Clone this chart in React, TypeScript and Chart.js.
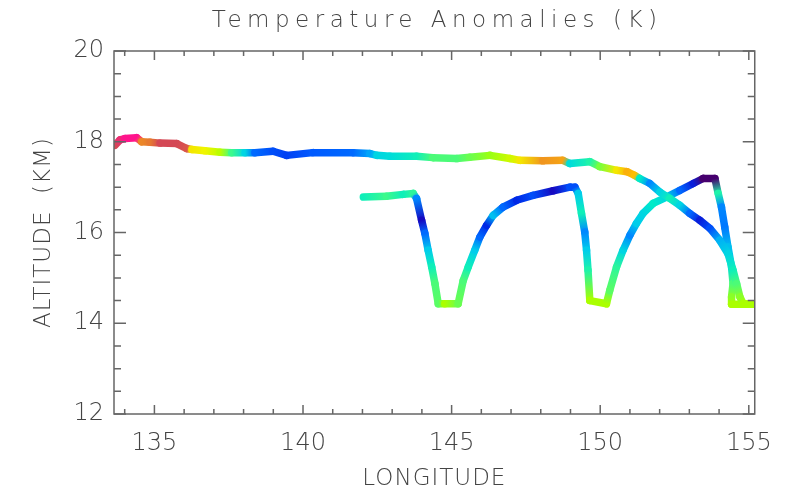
import React, { useEffect, useRef } from 'react';
import { Chart, registerables } from 'chart.js';

Chart.register(...registerables);

const FONT = '"DejaVu Sans", sans-serif';

const titleText = 'Temperature Anomalies (K)';
const xTitle = 'LONGITUDE';
const yTitle = 'ALTITUDE  (KM)';

const xTicks = [135, 140, 145, 150, 155];
const yTicks = [12, 14, 16, 18, 20];
const xRange = [133.64, 155.2];
const yRange = [12, 20];

// Track 1: upper, nearly level flight leg
const track1Lon = [133.67, 133.84, 134.01, 134.40, 134.57, 134.85, 135.19, 135.75, 136.09, 136.26, 136.70, 137.21, 137.60, 138.05, 138.38, 138.99, 139.45, 140.33, 141.68, 142.25, 142.49, 142.92, 143.82, 144.37, 145.17, 145.61, 146.29, 146.96, 147.30, 148.07, 148.74, 148.98, 149.65, 149.99, 150.56, 150.90, 151.16, 151.33, 151.67, 152.01, 152.34, 152.68, 153.01, 153.35, 153.69, 154.02, 154.30, 154.47, 154.59, 154.70, 154.81, 155.20];
const track1Alt = [17.92, 18.04, 18.07, 18.09, 18.00, 17.99, 17.97, 17.96, 17.85, 17.83, 17.80, 17.77, 17.76, 17.76, 17.76, 17.79, 17.70, 17.76, 17.76, 17.74, 17.70, 17.68, 17.68, 17.65, 17.63, 17.66, 17.70, 17.63, 17.59, 17.58, 17.59, 17.52, 17.56, 17.45, 17.37, 17.34, 17.26, 17.19, 17.08, 16.89, 16.75, 16.60, 16.42, 16.27, 16.09, 15.83, 15.53, 15.17, 14.87, 14.58, 14.43, 14.42];
const track1Anom = [2.4, 2.7, 3.0, 3.0, 1.9, 2.0, 2.4, 2.4, 2.3, 1.2, 1.1, 0.8, 0.0, -0.7, -1.5, -1.7, -1.8, -1.6, -1.5, -1.1, -0.7, -0.6, -0.3, 0.1, 0.1, 0.3, 0.6, 0.9, 1.2, 1.8, 1.7, -0.6, -0.2, 0.4, 1.2, 1.6, 1.5, -0.4, -1.3, -0.7, -0.3, -0.7, -1.5, -2.1, -1.7, -1.0, -0.7, -0.3, 0.1, 0.5, 0.7, 0.7];

// Track 2: lower, saw-tooth profiling leg
const track2Lon = [142.03, 142.81, 143.37, 143.71, 143.82, 143.99, 144.10, 144.21, 144.33, 144.44, 144.55, 144.77, 145.22, 145.39, 145.56, 145.78, 145.95, 146.18, 146.40, 146.73, 147.19, 147.74, 148.42, 148.98, 149.15, 149.26, 149.37, 149.48, 149.54, 149.59, 149.65, 150.21, 150.32, 150.55, 150.77, 151.00, 151.22, 151.44, 151.78, 152.23, 152.68, 153.13, 153.46, 153.86, 153.97, 154.08, 154.19, 154.30, 154.42, 154.47, 154.42, 154.42, 155.20];
const track2Alt = [16.78, 16.80, 16.84, 16.86, 16.75, 16.27, 15.98, 15.61, 15.24, 14.87, 14.43, 14.43, 14.43, 14.94, 15.24, 15.61, 15.90, 16.16, 16.38, 16.56, 16.71, 16.82, 16.92, 17.00, 17.00, 16.86, 16.42, 16.01, 15.61, 15.17, 14.50, 14.43, 14.72, 15.24, 15.61, 15.94, 16.20, 16.42, 16.64, 16.78, 16.93, 17.08, 17.19, 17.19, 16.86, 16.56, 16.12, 15.68, 15.24, 14.87, 14.58, 14.42, 14.42];
const track2Anom = [-0.3, 0.0, -0.3, -0.1, -1.3, -2.3, -1.5, -0.8, -0.3, 0.1, 0.2, 0.7, 0.3, 0.1, -0.3, -0.8, -1.5, -2.0, -0.9, -1.5, -2.0, -1.7, -2.3, -1.7, -1.7, -0.8, -0.3, -1.3, -0.8, -0.2, 0.7, 0.7, 0.2, -0.1, -0.7, -1.3, -0.8, -0.7, -0.4, -0.7, -1.5, -2.1, -3.0, -3.0, -0.2, -1.3, -1.4, -0.9, -0.6, 0.1, 0.5, 0.7, 0.7];

const colorStops: [number, number[]][] = [
  [-3.0, [70, 0, 110]],
  [-2.4, [30, 0, 180]],
  [-2.0, [0, 40, 230]],
  [-1.6, [0, 90, 255]],
  [-1.2, [0, 150, 255]],
  [-0.8, [0, 205, 235]],
  [-0.4, [0, 235, 200]],
  [0.0, [60, 250, 140]],
  [0.4, [120, 255, 60]],
  [0.7, [170, 255, 0]],
  [1.1, [240, 245, 0]],
  [1.5, [255, 190, 0]],
  [1.9, [235, 135, 40]],
  [2.4, [212, 72, 85]],
  [3.0, [255, 20, 140]],
];

function cmap(v: number): string {
  if (v <= colorStops[0][0]) return `rgb(${colorStops[0][1].join(',')})`;
  for (let i = 1; i < colorStops.length; i++) {
    const [v1, c1] = colorStops[i];
    const [v0, c0] = colorStops[i - 1];
    if (v <= v1) {
      const t = (v - v0) / (v1 - v0);
      const c = c0.map((a, k) => Math.round(a + (c1[k] - a) * t));
      return `rgb(${c.join(',')})`;
    }
  }
  return `rgb(${colorStops[colorStops.length - 1][1].join(',')})`;
}

function makeDataset(lon: number[], alt: number[], anom: number[]) {
  return {
    data: lon.map((x, i) => ({ x, y: alt[i] })),
    showLine: true,
    borderWidth: 7.5,
    borderColor: cmap(anom[0]),
    borderCapStyle: 'round',
    borderJoinStyle: 'round',
    pointRadius: 0,
    tension: 0,
    segment: {
      borderColor: (ctx: any) => {
        const g = ctx.chart.ctx.createLinearGradient(ctx.p0.x, ctx.p0.y, ctx.p1.x, ctx.p1.y);
        g.addColorStop(0, cmap(anom[ctx.p0DataIndex]));
        g.addColorStop(1, cmap(anom[ctx.p1DataIndex]));
        return g;
      },
    },
  };
}

const framePlugin = {
  id: 'idlFrame',
  afterDraw(chart: any) {
    const { ctx, chartArea: a, scales } = chart;
    const xs = scales.x;
    const ys = scales.y;
    ctx.save();
    ctx.strokeStyle = '#666';
    ctx.lineWidth = 1.5;
    ctx.strokeRect(a.left, a.top, a.right - a.left, a.bottom - a.top);
    ctx.beginPath();
    for (let v = Math.ceil(xs.min); v <= xs.max; v++) {
      const p = xs.getPixelForValue(v);
      const len = xTicks.includes(v) ? 9 : 5;
      ctx.moveTo(p, a.bottom);
      ctx.lineTo(p, a.bottom - len);
      ctx.moveTo(p, a.top);
      ctx.lineTo(p, a.top + len);
    }
    for (let k = Math.round(ys.min * 2); k <= Math.round(ys.max * 2); k++) {
      const v = k / 2;
      const p = ys.getPixelForValue(v);
      const len = yTicks.includes(v) ? 12 : 7;
      ctx.moveTo(a.left, p);
      ctx.lineTo(a.left + len, p);
      ctx.moveTo(a.right, p);
      ctx.lineTo(a.right - len, p);
    }
    ctx.stroke();

    ctx.fillStyle = '#444';
    ctx.textAlign = 'center';
    ctx.textBaseline = 'alphabetic';
    ctx.font = `200 23px ${FONT}`;
    ctx.letterSpacing = '5.5px';
    ctx.fillText(titleText, (a.left + a.right) / 2 + 2.75, 27);
    ctx.letterSpacing = '1px';
    ctx.fillText(xTitle, (a.left + a.right) / 2, 485);
    ctx.translate(50, (a.top + a.bottom) / 2);
    ctx.rotate(-Math.PI / 2);
    ctx.fillText(yTitle, 0, 0);
    ctx.letterSpacing = '0px';
    ctx.restore();
  },
};

export default function App() {
  const ref = useRef<HTMLCanvasElement | null>(null);
  useEffect(() => {
    if (!ref.current) return;
    const tickFont = { family: FONT, size: 24, weight: '200' as any };
    const chart = new Chart(ref.current, {
      type: 'scatter',
      data: {
        datasets: [
          makeDataset(track1Lon, track1Alt, track1Anom) as any,
          makeDataset(track2Lon, track2Alt, track2Anom) as any,
        ],
      },
      options: {
        animation: false,
        responsive: false,
        layout: { padding: { top: 51, right: 32, left: 0, bottom: 0 } },
        plugins: { legend: { display: false }, tooltip: { enabled: false }, title: { display: false } },
        scales: {
          x: {
            type: 'linear',
            min: xRange[0],
            max: xRange[1],
            afterBuildTicks: (s: any) => { s.ticks = xTicks.map((v) => ({ value: v })); },
            afterFit: (s: any) => { s.height = 84; },
            ticks: { font: tickFont, color: '#444', padding: 15, maxRotation: 0, autoSkip: false, callback: (v: any) => String(v) },
            grid: { display: false, drawTicks: false },
            border: { display: false },
          },
          y: {
            type: 'linear',
            min: yRange[0],
            max: yRange[1],
            afterBuildTicks: (s: any) => { s.ticks = yTicks.map((v) => ({ value: v })); },
            afterFit: (s: any) => { s.width = 114; },
            ticks: { font: tickFont, color: '#444', padding: 10, autoSkip: false, callback: (v: any) => String(v) },
            grid: { display: false, drawTicks: false },
            border: { display: false },
          },
        },
      },
      plugins: [framePlugin],
    });
    return () => chart.destroy();
  }, []);
  return (
    <div style={{ position: 'fixed', left: 0, top: 0, width: 787, height: 498, background: '#fff' }}>
      <canvas ref={ref} width={787} height={498} style={{ width: 787, height: 498, display: 'block' }} />
    </div>
  );
}
